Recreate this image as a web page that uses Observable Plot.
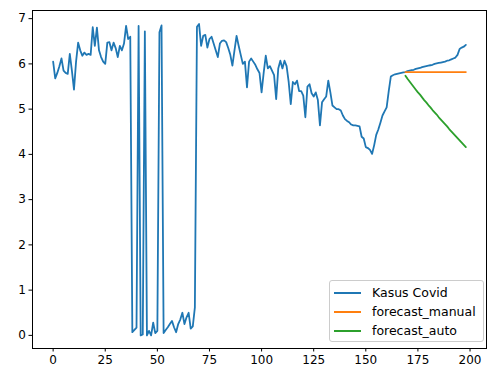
<!DOCTYPE html>
<html>
<head>
<meta charset="utf-8">
<script src="https://cdn.jsdelivr.net/npm/d3@7"></script>
<script src="https://cdn.jsdelivr.net/npm/@observablehq/plot@0.6"></script>
<style>
  html, body { margin: 0; padding: 0; background: #fff; }
  #wrap { position: relative; width: 488px; height: 370px; font-family: "DejaVu Sans", sans-serif; }
  #legend { position: absolute; left: 329px; top: 280px; width: 153px; height: 60px;
    border: 1px solid #cccccc; border-radius: 3px; background: rgba(255,255,255,0.8); font-size: 12.5px; }
  .row { position: absolute; left: 0; height: 19px; display: flex; align-items: center; }
  .sw { width: 27px; height: 2px; margin-left: 4px; margin-right: 11px; }
</style>
</head>
<body>
<div id="wrap"></div>
<script>
// Blue series "Kasus Covid", t = 0..198
const kasusCovid = [
  6.05, 5.68, 5.80, 5.95, 6.12, 5.85, 5.80, 5.78, 6.22, 5.85,
  5.43, 6.05, 6.47, 6.30, 6.18, 6.25, 6.20, 6.22, 6.20, 6.81,
  6.40, 6.80, 6.30, 6.15, 6.05, 6.00, 6.47, 6.48, 6.30, 6.47,
  6.35, 6.15, 6.40, 6.30, 6.45, 6.84, 6.55, 6.60, 0.07, 0.12,
  0.17, 6.84, 0.00, 0.02, 6.72, 0.00, 0.10, 0.00, 0.28, 0.05,
  0.10, 6.70, 6.85, 0.05, 0.12, 0.18, 0.25, 0.32, 0.18, 0.07,
  0.25, 0.35, 0.50, 0.25, 0.40, 0.50, 0.15, 0.20, 0.62, 6.82,
  6.88, 6.40, 6.62, 6.64, 6.36, 6.55, 6.60, 6.45, 6.30, 6.15,
  6.45, 6.51, 6.52, 6.48, 6.35, 6.20, 5.96, 6.30, 6.62, 6.40,
  6.20, 6.00, 6.05, 5.48, 6.05, 6.12, 6.05, 5.98, 5.88, 5.80,
  5.37, 5.80, 6.18, 5.90, 5.95, 5.85, 5.75, 5.22, 5.90, 6.07,
  5.90, 6.07, 5.95, 5.60, 5.11, 5.60, 5.55, 5.63, 5.40, 5.40,
  5.30, 4.82, 5.50, 5.55, 5.35, 5.28, 5.37, 5.20, 4.64, 5.15,
  5.22, 5.28, 5.63, 5.37, 5.08, 5.04, 5.00, 5.00, 4.97, 4.86,
  4.78, 4.74, 4.71, 4.66, 4.64, 4.64, 4.63, 4.62, 4.39, 4.35,
  4.16, 4.14, 4.10, 4.01, 4.20, 4.43, 4.55, 4.70, 4.86, 4.95,
  5.04, 5.40, 5.72, 5.75, 5.77, 5.78, 5.79, 5.80, 5.81, 5.82,
  5.84, 5.85, 5.86, 5.87, 5.89, 5.90, 5.91, 5.93, 5.94, 5.95,
  5.96, 5.97, 5.98, 6.00, 6.01, 6.02, 6.03, 6.04, 6.05, 6.07,
  6.08, 6.10, 6.12, 6.14, 6.20, 6.33, 6.36, 6.38, 6.42
];
const forecastStart = 169;
const forecastManual = [
  5.82, 5.82, 5.82, 5.82, 5.82, 5.82, 5.82, 5.82, 5.82, 5.82,
  5.82, 5.82, 5.82, 5.82, 5.82, 5.82, 5.82, 5.82, 5.82, 5.82,
  5.82, 5.82, 5.82, 5.82, 5.82, 5.82, 5.82, 5.82, 5.82, 5.82
];
const forecastAuto = [
  5.74, 5.67, 5.61, 5.55, 5.49, 5.43, 5.37, 5.32, 5.26, 5.20,
  5.15, 5.09, 5.04, 4.98, 4.93, 4.88, 4.82, 4.77, 4.72, 4.67,
  4.62, 4.56, 4.51, 4.46, 4.41, 4.36, 4.31, 4.26, 4.21, 4.16
];
const seriesNames = ["Kasus Covid", "forecast_manual", "forecast_auto"];
const seriesColors = ["#1f77b4", "#ff7f0e", "#2ca02c"];
const xTicks = [0, 25, 50, 75, 100, 125, 150, 175, 200];
const yTicks = [0, 1, 2, 3, 4, 5, 6, 7];

const blue = kasusCovid.map((v, i) => ({t: i, v}));
const orange = forecastManual.map((v, i) => ({t: forecastStart + i, v}));
const green = forecastAuto.map((v, i) => ({t: forecastStart + i, v}));

const chart = Plot.plot({
  width: 488,
  height: 370,
  marginLeft: 32,
  marginRight: 2,
  marginTop: 10,
  marginBottom: 22,
  style: {fontFamily: "DejaVu Sans, sans-serif", fontSize: "12px", color: "#000", background: "#fff"},
  x: {domain: [-9.9, 207.9], ticks: xTicks, tickSize: 3.5, tickPadding: 3, label: null},
  y: {domain: [-0.29, 7.18], ticks: yTicks, tickSize: 3.5, tickPadding: 3, label: null},
  marks: [
    Plot.line(blue, {x: "t", y: "v", stroke: seriesColors[0], strokeWidth: 1.8}),
    Plot.line(orange, {x: "t", y: "v", stroke: seriesColors[1], strokeWidth: 1.8}),
    Plot.line(green, {x: "t", y: "v", stroke: seriesColors[2], strokeWidth: 1.8}),
    Plot.frame({stroke: "#000", strokeWidth: 1})
  ]
});
const wrap = document.getElementById("wrap");
wrap.appendChild(chart);

const legend = document.createElement("div");
legend.id = "legend";
seriesNames.forEach((name, i) => {
  const row = document.createElement("div");
  row.className = "row";
  row.style.top = (2 + i * 19) + "px";
  const sw = document.createElement("span");
  sw.className = "sw";
  sw.style.background = seriesColors[i];
  const tx = document.createElement("span");
  tx.textContent = name;
  row.appendChild(sw);
  row.appendChild(tx);
  legend.appendChild(row);
});
wrap.appendChild(legend);
</script>
</body>
</html>
